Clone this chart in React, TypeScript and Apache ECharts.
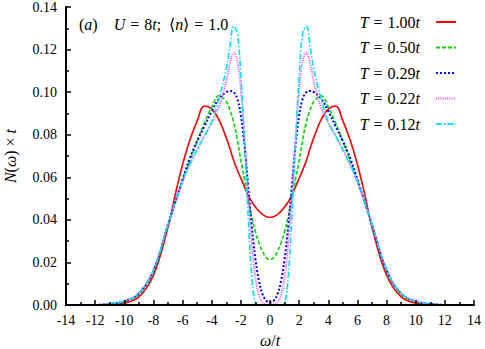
import React, { useEffect, useRef } from "react";
import * as echarts from "echarts";

const omega = [
  -12, -11, -10, -9, -8, -7, -6.5, -6, -5.5, -5, -4.5, -4, -3.5, -3, -2.75, -2.5, -2.25, -2, -1.75, -1.5, -1.25, -1, -0.75, -0.5, -0.25,
  0,
  0.25, 0.5, 0.75, 1, 1.25, 1.5, 1.75, 2, 2.25, 2.5, 2.75, 3, 3.5, 4, 4.5, 5, 5.5, 6, 6.5, 7, 8, 9, 10, 11, 12,
];

const temps = ["1.00", "0.50", "0.29", "0.22", "0.12"];

const dosT100 = [
  0.0, 0.0002, 0.0009, 0.0038, 0.014, 0.0365, 0.052, 0.066, 0.0775, 0.0865, 0.0935, 0.092, 0.087, 0.0785, 0.0735, 0.068, 0.0635, 0.0595, 0.0555, 0.0515, 0.0485, 0.046, 0.044, 0.0425, 0.0415,
  0.0412,
  0.0415, 0.0425, 0.044, 0.046, 0.0485, 0.0515, 0.0555, 0.0595, 0.0635, 0.068, 0.0735, 0.0785, 0.087, 0.092, 0.0935, 0.0865, 0.0775, 0.066, 0.052, 0.0365, 0.014, 0.0038, 0.0009, 0.0002, 0.0,
];
const dosT050 = [
  0.0, 0.0005, 0.0017, 0.0052, 0.016, 0.0375, 0.048, 0.0585, 0.0677, 0.077, 0.0855, 0.093, 0.0983, 0.0955, 0.0915, 0.086, 0.078, 0.068, 0.059, 0.0495, 0.0415, 0.0345, 0.029, 0.025, 0.0222,
  0.0213,
  0.0222, 0.025, 0.029, 0.0345, 0.0415, 0.0495, 0.059, 0.068, 0.078, 0.086, 0.0915, 0.0955, 0.0983, 0.093, 0.0855, 0.077, 0.0677, 0.0585, 0.048, 0.0375, 0.016, 0.0052, 0.0017, 0.0005, 0.0,
];
const dosT029 = [
  0.0, 0.0005, 0.0017, 0.0053, 0.0162, 0.0378, 0.0485, 0.059, 0.069, 0.077, 0.084, 0.091, 0.097, 0.1, 0.1005, 0.1, 0.097, 0.089, 0.075, 0.056, 0.037, 0.0215, 0.011, 0.0048, 0.002,
  0.0012,
  0.002, 0.0048, 0.011, 0.0215, 0.037, 0.056, 0.075, 0.089, 0.097, 0.1, 0.1005, 0.1, 0.097, 0.091, 0.084, 0.077, 0.069, 0.059, 0.0485, 0.0378, 0.0162, 0.0053, 0.0017, 0.0005, 0.0,
];
const dosT022 = [
  0.0, 0.0006, 0.0019, 0.0057, 0.0168, 0.038, 0.048, 0.0575, 0.066, 0.073, 0.0795, 0.0855, 0.093, 0.105, 0.1135, 0.1185, 0.115, 0.101, 0.078, 0.052, 0.029, 0.013, 0.0045, 0.0012, 0.0003,
  0.0002,
  0.0003, 0.0012, 0.0045, 0.013, 0.029, 0.052, 0.078, 0.101, 0.115, 0.1185, 0.1135, 0.105, 0.093, 0.0855, 0.0795, 0.073, 0.066, 0.0575, 0.048, 0.038, 0.0168, 0.0057, 0.0019, 0.0006, 0.0,
];
const dosT012 = [
  0.0, 0.0005, 0.0018, 0.0055, 0.0165, 0.0378, 0.0485, 0.0585, 0.066, 0.073, 0.0795, 0.086, 0.097, 0.111, 0.1215, 0.131, 0.128, 0.108, 0.076, 0.042, 0.013, 0.001, 0.0, 0.0, 0.0,
  0.0,
  0.0, 0.0, 0.0, 0.001, 0.013, 0.042, 0.076, 0.108, 0.128, 0.131, 0.1215, 0.111, 0.097, 0.086, 0.0795, 0.073, 0.066, 0.0585, 0.0485, 0.0378, 0.0165, 0.0055, 0.0018, 0.0005, 0.0,
];

const seriesValues = [dosT100, dosT050, dosT029, dosT022, dosT012];
const colors = ["#ff0000", "#00d800", "#0000ff", "#ff44ff", "#00e4f4"];
const dashes: any[] = ["solid", [4, 2], [2, 2], [1, 1.2], [6, 2, 1.5, 2]];
const widths = [1.6, 1.6, 2, 1.8, 1.6];

const FONT = "Liberation Serif";

function makeRich(size: number, eqPad: number) {
  return {
    i: { fontFamily: FONT, fontStyle: "italic", fontWeight: "normal", fontSize: size, color: "#000" },
    n: { fontFamily: FONT, fontWeight: "normal", fontSize: size, color: "#000" },
    eq: { fontFamily: FONT, fontWeight: "normal", fontSize: size, color: "#000", padding: [0, eqPad] },
    sp: { width: 16 },
  };
}

export default function App() {
  const ref = useRef<HTMLDivElement>(null);
  useEffect(() => {
    if (!ref.current) return;
    const chart = echarts.init(ref.current, undefined, { renderer: "svg" });
    const richLegend = makeRich(16, 5);
    const richTitle = makeRich(16, 5);
    const richName = makeRich(16, 4);
    chart.setOption({
      animation: false,
      backgroundColor: "#fff",
      textStyle: { fontFamily: FONT, fontWeight: "normal" },
      grid: { left: 66, right: 11, top: 5, bottom: 44, containLabel: false },
      title: {
        text: "{n|(}{i|a}{n|)}{sp|}{i|U}{eq|=}{n|8}{i|t}{n|;  ⟨}{i|n}{n|⟩}{eq|=}{n|1.0}",
        left: 79,
        top: 16,
        padding: 0,
        textStyle: { fontFamily: FONT, fontWeight: "normal", fontSize: 16, rich: richTitle },
      },
      legend: {
        orient: "vertical",
        right: 28,
        top: 14,
        padding: 0,
        align: "right",
        itemWidth: 20,
        itemHeight: 14,
        itemGap: 9.5,
        itemStyle: { opacity: 0 },
        formatter: (name: string) => {
          const v = name.slice(4, -1);
          return `{i|T}{eq|=}{n|${v}}{i|t}`;
        },
        textStyle: { fontFamily: FONT, fontWeight: "normal", fontSize: 16, rich: richLegend, lineHeight: 16, padding: [0, 11, 0, 0] },
      },
      graphic: [
        {
          type: "text",
          x: 270,
          y: 340,
          style: {
            text: "{i|ω}{n|/}{i|t}",
            rich: richName,
            align: "center",
            verticalAlign: "middle",
          },
        },
        {
          type: "text",
          x: 10,
          y: 156,
          rotation: Math.PI / 2,
          style: {
            text: "{i|N}{n|(}{i|ω}{n|)}{eq|×}{i|t}",
            rich: richName,
            align: "center",
            verticalAlign: "middle",
          },
        },
      ],
      xAxis: {
        type: "value",
        min: -14,
        max: 14,
        interval: 2,
        z: 10,
        axisLine: { onZero: false, lineStyle: { color: "#000", width: 2 } },
        axisTick: { inside: true, length: 5, lineStyle: { color: "#000", width: 1.5 } },
        minorTick: { show: true, splitNumber: 2, length: 3, lineStyle: { color: "#000", width: 1.5 } },
        splitLine: { show: false },
        axisLabel: { color: "#000", fontFamily: FONT, fontSize: 14, margin: 8 },
      },
      yAxis: {
        type: "value",
        min: 0,
        max: 0.14,
        interval: 0.02,
        z: 10,
        axisLine: { onZero: false, lineStyle: { color: "#000", width: 2 } },
        axisTick: { inside: true, length: 5, lineStyle: { color: "#000", width: 1.5 } },
        minorTick: { show: true, splitNumber: 2, length: 3, lineStyle: { color: "#000", width: 1.5 } },
        splitLine: { show: false },
        axisLabel: {
          color: "#000",
          fontFamily: FONT,
          fontSize: 14,
          margin: 9,
          formatter: (v: number) => v.toFixed(2),
        },
      },
      series: temps.map((t, k) => ({
        name: `T = ${t}t`,
        type: "line",
        smooth: 0.4,
        symbol: "none",
        showSymbol: false,
        z: 2,
        color: colors[k],
        lineStyle: { color: colors[k], width: widths[k], type: dashes[k] },
        data: omega.map((x, i) => [x, seriesValues[k][i]]),
      })),
    });
    return () => chart.dispose();
  }, []);
  return <div ref={ref} style={{ position: "absolute", left: 0, top: 0, width: 485, height: 349 }} />;
}
